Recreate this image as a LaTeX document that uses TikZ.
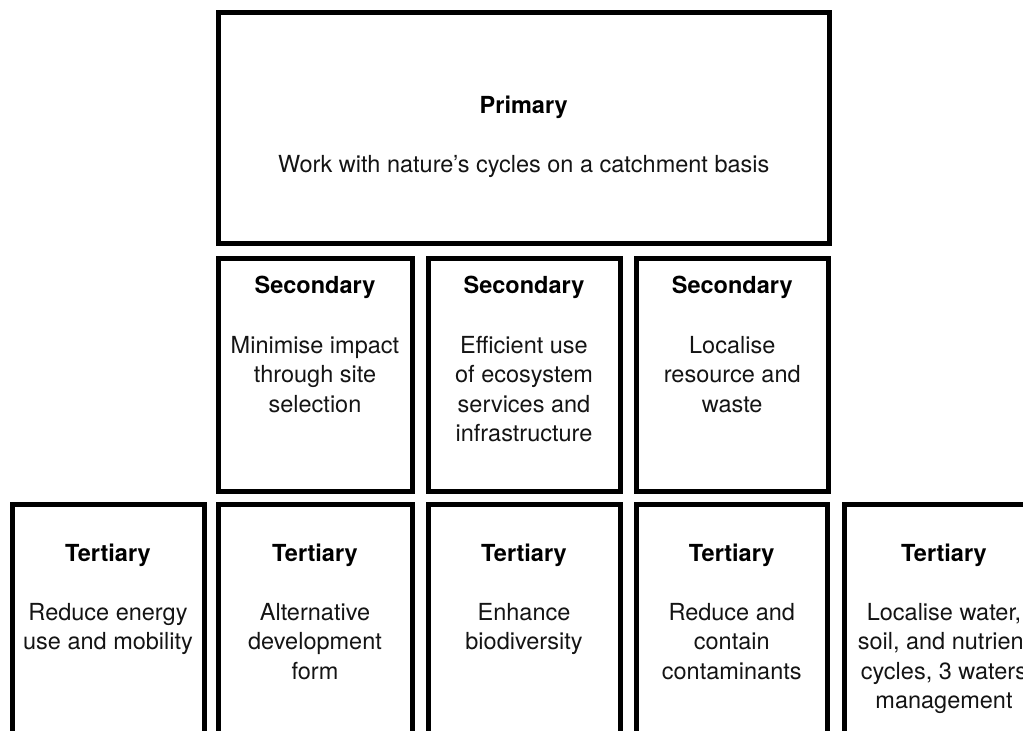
\documentclass[tikz,border=0pt]{standalone}
\usepackage{fontspec}
\setmainfont{TeX Gyre Heros}
\usetikzlibrary{calc}
% centred multi-line label whose first baseline is the node's base
\newcommand\linestack[1]{\begin{tabular}[t]{@{}c@{}}#1\end{tabular}}
\begin{document}
\begin{tikzpicture}[x=1pt,y=-1pt,
  box/.style={draw=black,line width=5pt,inner sep=0pt,anchor=north west},
  head/.style={font=\fontsize{23.5}{29.5}\selectfont\bfseries,anchor=base,inner sep=0pt,text=black},
  body/.style={font=\fontsize{23.5}{29.5}\selectfont,anchor=base,inner sep=0pt,text=black!92}]
\useasboundingbox (0,0) rectangle (1023,731);
\clip (0,0) rectangle (1023,731);

% primary principle
\node[box,minimum width=611.5pt,minimum height=231pt] (prim) at (215.5,10) {};
\node[head] (prim-h) at ($(prim.north)+(0,103)$) {Primary};
\node[body] (prim-b) at ($(prim.north)+(0,162)$) {Work with nature’s cycles on a catchment basis};

% secondary principles
\node[box,minimum width=194pt,minimum height=233pt] (sec1) at (215.5,255.5) {};
\node[box,minimum width=192pt,minimum height=233pt] (sec2) at (425.5,255.5) {};
\node[box,minimum width=192.5pt,minimum height=233pt] (sec3) at (633.5,255.5) {};
\foreach \s in {sec1,sec2,sec3}
  \node[head] (\s-h) at ($(\s.north)+(0,37.5)$) {Secondary};
\node[body] (sec1-b) at ($(sec1.north)+(0,97.5)$) {\linestack{Minimise impact\\through site\\selection}};
\node[body] (sec2-b) at ($(sec2.north)+(0,97.5)$) {\linestack{Efficient use\\of ecosystem\\services and\\infrastructure}};
\node[body] (sec3-b) at ($(sec3.north)+(0,97.5)$) {\linestack{Localise\\resource and\\waste}};

% tertiary principles
\node[box,minimum width=192pt,minimum height=250pt] (ter1) at (9.5,501.5) {};
\node[box,minimum width=194pt,minimum height=250pt] (ter2) at (215.5,501.5) {};
\node[box,minimum width=192pt,minimum height=250pt] (ter3) at (425.5,501.5) {};
\node[box,minimum width=191.5pt,minimum height=250pt] (ter4) at (633.5,501.5) {};
\node[box,minimum width=200pt,minimum height=250pt] (ter5) at (841.5,501.5) {};
\foreach \t in {ter1,ter2,ter3,ter4,ter5}
  \node[head] (\t-h) at ($(\t.north)+(0,59.5)$) {Tertiary};
\node[body] (ter1-b) at ($(ter1.north)+(0,118.5)$) {\linestack{Reduce energy\\use and mobility}};
\node[body] (ter2-b) at ($(ter2.north)+(0,118.5)$) {\linestack{Alternative\\development\\form}};
\node[body] (ter3-b) at ($(ter3.north)+(0,118.5)$) {\linestack{Enhance\\biodiversity}};
\node[body] (ter4-b) at ($(ter4.north)+(0,118.5)$) {\linestack{Reduce and\\contain\\contaminants}};
\node[body] (ter5-b) at ($(ter5.north)+(0,118.5)$) {\linestack{Localise water,\\soil, and nutrient\\cycles, 3 waters\\management}};
\end{tikzpicture}
\end{document}
